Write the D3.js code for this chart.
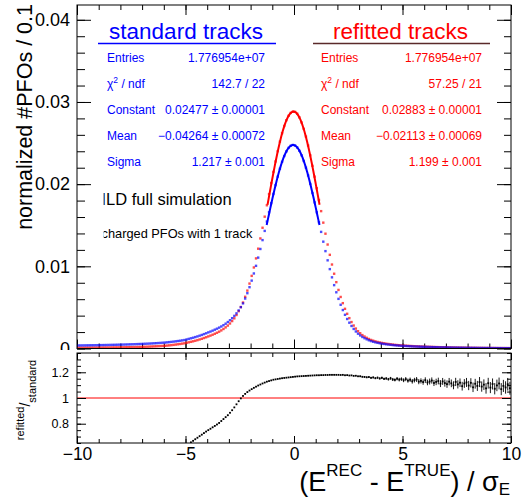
<!DOCTYPE html>
<html>
<head>
<meta charset="utf-8">
<script src="https://cdn.jsdelivr.net/npm/d3@7"></script>
<style>
  body { margin: 0; background: #fff; }
  svg { display: block; }
  text { font-family: "Liberation Sans", Arial, Helvetica, sans-serif; }
</style>
</head>
<body>
<svg id="chart" width="522" height="499"></svg>
<script>
// Histogram binning: 200 bins of width 0.1 from -10 to 10
const binLow = -10;
const binWidth = 0.1;

// normalized #PFOs per bin, standard tracks
const standard = [
  0.000370,0.000373,0.000377,0.000380,0.000384,0.000388,0.000392,0.000396,0.000401,0.000405,
  0.000410,0.000416,0.000421,0.000427,0.000433,0.000439,0.000445,0.000452,0.000459,0.000466,
  0.000473,0.000480,0.000488,0.000496,0.000505,0.000514,0.000523,0.000533,0.000543,0.000554,
  0.000565,0.000577,0.000590,0.000603,0.000617,0.000632,0.000648,0.000665,0.000683,0.000702,
  0.000722,0.000748,0.000776,0.000806,0.000838,0.000872,0.000908,0.000946,0.000986,0.00103,
  0.00110,0.00117,0.00124,0.00131,0.00139,0.00147,0.00156,0.00165,0.00175,0.00185,
  0.00196,0.00206,0.00217,0.00229,0.00241,0.00254,0.00268,0.00284,0.00302,0.00322,
  0.00344,0.00369,0.00397,0.00428,0.00463,0.00503,0.00549,0.00608,0.00673,0.00746,
  0.00826,0.00913,0.01006,0.01106,0.01211,0.01319,0.01431,0.01545,0.01658,0.01769,
  0.01881,0.01988,0.02092,0.02187,0.02271,0.02342,0.02399,0.02441,0.02467,0.02477,
  0.02470,0.02446,0.02406,0.02351,0.02282,0.02200,0.02106,0.02003,0.01892,0.01778,
  0.01657,0.01536,0.01419,0.01300,0.01185,0.01073,0.00966,0.00866,0.00771,0.00684,
  0.00604,0.00532,0.00468,0.00410,0.00359,0.00314,0.00274,0.00238,0.00207,0.00180,
  0.00159,0.00140,0.00125,0.00112,0.00100,0.00090,0.00082,0.00075,0.00069,0.00064,
  0.00059,0.00055,0.00051,0.00048,0.00045,0.00042,0.00039,0.00037,0.00035,0.00033,
  0.000315,0.000300,0.000286,0.000273,0.000260,0.000248,0.000237,0.000226,0.000216,0.000206,
  0.000197,0.000188,0.000180,0.000172,0.000164,0.000157,0.000150,0.000143,0.000137,0.000131,
  0.000125,0.000120,0.000115,0.000110,0.000105,0.000101,0.000097,0.000093,0.000089,0.000085,
  0.000082,0.000079,0.000076,0.000073,0.000070,0.000067,0.000065,0.000062,0.000060,0.000058,
  0.000056,0.000054,0.000052,0.000050,0.000048,0.000047,0.000045,0.000044,0.000042,0.000041
];

// normalized #PFOs per bin, refitted tracks
const refitted = [
  0.0000929,0.0000944,0.0000961,0.0000977,0.0000995,0.000101,0.000103,0.000105,0.000107,0.000109,
  0.000112,0.000114,0.000117,0.000120,0.000123,0.000126,0.000129,0.000132,0.000136,0.000139,
  0.000143,0.000148,0.000153,0.000158,0.000163,0.000169,0.000174,0.000180,0.000186,0.000193,
  0.000201,0.000211,0.000221,0.000232,0.000244,0.000256,0.000269,0.000283,0.000297,0.000312,
  0.000329,0.000354,0.000381,0.000410,0.000442,0.000478,0.000513,0.000551,0.000591,0.000634,
  0.000694,0.000752,0.000812,0.000874,0.000944,0.001016,0.001097,0.001180,0.001272,0.001367,
  0.001470,0.001568,0.001675,0.001793,0.001914,0.002047,0.002200,0.002374,0.002570,0.002789,
  0.003044,0.003340,0.003672,0.004079,0.004542,0.005045,0.005594,0.006293,0.007046,0.007900,
  0.008838,0.009860,0.010965,0.012144,0.013394,0.014694,0.016042,0.017428,0.018785,0.020131,
  0.021481,0.022763,0.024016,0.025172,0.026207,0.027074,0.027780,0.028316,0.028667,0.028832,
  0.028800,0.028569,0.028126,0.027507,0.026722,0.025784,0.024703,0.023515,0.022231,0.020909,
  0.019503,0.018079,0.016716,0.015314,0.013971,0.012651,0.011399,0.010219,0.009098,0.008071,
  0.007127,0.006272,0.005518,0.004830,0.004225,0.003693,0.003220,0.002794,0.002426,0.002106,
  0.001857,0.001632,0.001455,0.001301,0.001160,0.001043,0.000950,0.000868,0.000797,0.000739,
  0.000679,0.000632,0.000586,0.000551,0.000516,0.000481,0.000446,0.000423,0.000400,0.000377,
  0.000358,0.000341,0.000325,0.000310,0.000296,0.000282,0.000269,0.000257,0.000245,0.000234,
  0.000221,0.000211,0.000202,0.000193,0.000184,0.000176,0.000169,0.000161,0.000154,0.000147,
  0.000139,0.000133,0.000128,0.000122,0.000117,0.000112,0.000108,0.000103,0.0000988,0.0000944,
  0.0000901,0.0000868,0.0000835,0.0000802,0.0000769,0.0000736,0.0000714,0.0000681,0.0000659,0.0000637,
  0.0000610,0.0000588,0.0000566,0.0000545,0.0000523,0.0000512,0.0000490,0.0000479,0.0000457,0.0000447
];

// refitted / standard per bin
const ratio = [
  0.251,0.253,0.255,0.257,0.259,0.261,0.263,0.265,0.267,0.269,
  0.272,0.275,0.278,0.281,0.284,0.287,0.290,0.293,0.296,0.299,
  0.303,0.308,0.313,0.318,0.323,0.328,0.333,0.338,0.343,0.348,
  0.355,0.365,0.375,0.385,0.395,0.405,0.415,0.425,0.435,0.445,
  0.455,0.473,0.491,0.509,0.527,0.548,0.565,0.582,0.599,0.616,
  0.631,0.643,0.655,0.667,0.679,0.691,0.703,0.715,0.727,0.739,
  0.750,0.761,0.772,0.783,0.794,0.806,0.821,0.836,0.851,0.866,
  0.885,0.905,0.927,0.951,0.975,0.997,1.016,1.032,1.046,1.058,
  1.069,1.079,1.088,1.097,1.105,1.113,1.120,1.127,1.132,1.137,
  1.142,1.145,1.148,1.151,1.154,1.156,1.158,1.160,1.162,1.164,
  1.166,1.168,1.169,1.170,1.171,1.172,1.173,1.174,1.175,1.176,
  1.177,1.177,1.178,1.178,1.179,1.179,1.180,1.180,1.180,1.180,
  1.180,1.179,1.180,1.177,1.178,1.175,1.176,1.172,1.173,1.169,
  1.169,1.165,1.164,1.161,1.163,1.157,1.160,1.154,1.158,1.152,
  1.157,1.149,1.152,1.146,1.153,1.144,1.141,1.150,1.143,1.147,
  1.138,1.147,1.135,1.142,1.130,1.139,1.144,1.127,1.133,1.124,
  1.139,1.121,1.128,1.136,1.117,1.125,1.132,1.112,1.129,1.116,
  1.108,1.127,1.114,1.099,1.125,1.106,1.119,1.092,1.113,1.121,
  1.097,1.118,1.083,1.111,1.094,1.124,1.089,1.104,1.075,1.115,
  1.081,1.109,1.072,1.098,1.113,1.069,1.094,1.082,1.107,1.076
];

// statistical uncertainty on the ratio per bin
const ratioErr = [
  0.006,0.006,0.006,0.006,0.006,0.006,0.006,0.006,0.006,0.006,
  0.006,0.006,0.006,0.006,0.006,0.006,0.006,0.006,0.006,0.006,
  0.006,0.006,0.006,0.006,0.006,0.006,0.006,0.006,0.006,0.006,
  0.006,0.006,0.006,0.006,0.006,0.006,0.006,0.006,0.006,0.006,
  0.006,0.006,0.006,0.006,0.006,0.006,0.006,0.006,0.006,0.006,
  0.004,0.004,0.004,0.004,0.004,0.004,0.004,0.004,0.004,0.004,
  0.004,0.004,0.004,0.004,0.004,0.004,0.004,0.004,0.004,0.004,
  0.002,0.002,0.002,0.002,0.002,0.002,0.002,0.002,0.002,0.002,
  0.002,0.002,0.002,0.002,0.002,0.002,0.002,0.002,0.002,0.002,
  0.002,0.002,0.002,0.002,0.002,0.002,0.002,0.002,0.002,0.002,
  0.002,0.002,0.002,0.002,0.002,0.002,0.002,0.002,0.002,0.002,
  0.002,0.002,0.002,0.002,0.002,0.002,0.002,0.002,0.002,0.002,
  0.002,0.002,0.002,0.002,0.002,0.002,0.002,0.002,0.002,0.002,
  0.005,0.005,0.006,0.006,0.006,0.007,0.007,0.007,0.008,0.008,
  0.009,0.009,0.010,0.010,0.011,0.012,0.012,0.013,0.014,0.014,
  0.015,0.016,0.016,0.017,0.018,0.018,0.019,0.020,0.020,0.021,
  0.022,0.022,0.023,0.024,0.024,0.025,0.026,0.027,0.027,0.028,
  0.029,0.029,0.030,0.031,0.032,0.032,0.033,0.034,0.034,0.035,
  0.036,0.036,0.037,0.038,0.039,0.039,0.040,0.041,0.041,0.042,
  0.043,0.043,0.044,0.045,0.046,0.047,0.047,0.048,0.049,0.050
];

// Gaussian fit results: [Constant, Mean, Sigma] and their errors
const standardFit = [0.02477, -0.04264, 1.217];
const standardFitErr = [0.00001, 0.00072, 0.001];
const refittedFit = [0.02883, -0.02113, 1.199];
const refittedFitErr = [0.00001, 0.00069, 0.001];
const entries = ["1.776954e+07", "1.776954e+07"];
const chi2ndf = ["142.7 / 22", "57.25 / 21"];

// Axis ticks
const xMajor = [-10, -5, 0, 5, 10];
const yMajor = [0, 0.01, 0.02, 0.03, 0.04];
const rMajor = [0.8, 1, 1.2];

// ---------------------------------------------------------------
const svg = d3.select("#chart");
const W = 522, H = 499;
const left = 77, right = 511;
const topMain = 5, botMain = 348.5;
const topRat = 353, botRat = 443;

const x = d3.scaleLinear().domain([-10, 10]).range([left, right]);
const y = d3.scaleLinear().domain([0, 0.0418]).range([botMain, topMain]);
const yr = d3.scaleLinear().domain([0.65, 1.35]).range([botRat, topRat]);

const centers = standard.map((_, i) => binLow + (i + 0.5) * binWidth);

const defs = svg.append("defs");
defs.append("clipPath").attr("id", "clipMain")
  .append("rect").attr("x", left).attr("y", topMain).attr("width", right - left).attr("height", botMain - topMain);
defs.append("clipPath").attr("id", "clipRat")
  .append("rect").attr("x", left).attr("y", topRat).attr("width", right - left).attr("height", botRat - topRat);
defs.append("clipPath").attr("id", "clipText")
  .append("rect").attr("x", 103.6).attr("y", 180).attr("width", 200).attr("height", 70);

function tickLayer(g, axisFn, scale, values, size) {
  g.call(axisFn(scale).tickValues(values).tickSize(size).tickFormat(""))
   .call(s => s.select(".domain").remove())
   .call(s => s.selectAll("line").attr("stroke", "#000").attr("stroke-width", 1));
}

// ---------------- upper pad ----------------
const main = svg.append("g");

// y-axis title
main.append("text")
  .attr("transform", "translate(32,4) rotate(-90)")
  .attr("text-anchor", "end")
  .attr("font-size", 21.5)
  .text("normalized #PFOs / 0.1");

// y tick labels
main.append("g").attr("transform", `translate(${left},0)`)
  .call(d3.axisLeft(y).tickValues(yMajor).tickSize(0).tickPadding(7)
        .tickFormat(d => d === 0 ? "0" : d3.format(".2f")(d)))
  .call(s => s.select(".domain").remove())
  .call(s => s.selectAll("text").attr("font-size", 18).attr("fill", "#000")
        .attr("font-family", "'Liberation Sans', Arial, sans-serif"));

// ticks on all four sides
const yMinor = d3.range(0, 0.0419, 0.002);
const xMinor = d3.range(-10, 10.01, 1);
tickLayer(main.append("g").attr("transform", `translate(${left},0)`), d3.axisRight, y, yMinor, 8);
tickLayer(main.append("g").attr("transform", `translate(${left},0)`), d3.axisRight, y, yMajor, 14);
tickLayer(main.append("g").attr("transform", `translate(${right},0)`), d3.axisLeft, y, yMinor, 7);
tickLayer(main.append("g").attr("transform", `translate(${right},0)`), d3.axisLeft, y, yMajor, 14);
tickLayer(main.append("g").attr("transform", `translate(0,${botMain})`), d3.axisTop, x, xMinor, 5);
tickLayer(main.append("g").attr("transform", `translate(0,${botMain})`), d3.axisTop, x, xMajor, 9);
tickLayer(main.append("g").attr("transform", `translate(0,${topMain})`), d3.axisBottom, x, xMinor, 5);
tickLayer(main.append("g").attr("transform", `translate(0,${topMain})`), d3.axisBottom, x, xMajor, 10);

// histogram markers
const pts = main.append("g").attr("clip-path", "url(#clipMain)");
function markers(values, color) {
  pts.append("g").selectAll("rect").data(values).join("rect")
    .attr("x", (d, i) => x(centers[i]) - 1.2)
    .attr("y", d => y(d) - 1.2)
    .attr("width", 2.4).attr("height", 2.4)
    .attr("fill", color).attr("fill-opacity", 0.7);
}
markers(refitted, "#ff0000");
markers(standard, "#0000ff");

// Gaussian fit curves over mean ± sigma
function fitCurve(par, color) {
  const [c, m, s] = par;
  const xs = d3.range(0, 101).map(k => m - s + (2 * s) * k / 100);
  const line = d3.line().x(d => x(d)).y(d => y(c * Math.exp(-0.5 * ((d - m) / s) ** 2)));
  pts.append("path").datum(xs).attr("d", line)
    .attr("fill", "none").attr("stroke", color).attr("stroke-width", 2);
}
fitCurve(refittedFit, "#ff0000");
fitCurve(standardFit, "#0000ff");

// statistics boxes
const statNames = ["Entries", "chi2", "Constant", "Mean", "Sigma"];
const rowY = [61.5, 87.5, 114, 140, 166];
function statBox(title, cx, lineX0, lineX1, lineColor, labelX, valueX, color, fit, fitErr, ent, chi) {
  const g = main.append("g").attr("fill", color);
  g.append("text").attr("x", cx).attr("y", 39).attr("text-anchor", "middle")
    .attr("font-size", 22.5).text(title);
  g.append("line").attr("x1", lineX0).attr("x2", lineX1).attr("y1", 43.5).attr("y2", 43.5)
    .attr("stroke", lineColor).attr("stroke-width", 1.6);
  const values = [
    ent, chi,
    d3.format(".5f")(fit[0]) + " ± " + d3.format(".5f")(fitErr[0]),
    d3.format(".5f")(fit[1]) + " ± " + d3.format(".5f")(fitErr[1]),
    d3.format(".3f")(fit[2]) + " ± " + d3.format(".3f")(fitErr[2])
  ];
  statNames.forEach((n, i) => {
    const t = g.append("text").attr("x", labelX).attr("y", rowY[i]).attr("font-size", 12);
    if (n === "chi2") {
      t.append("tspan").text("χ");
      t.append("tspan").attr("font-size", 8.5).attr("dy", -5).text("2");
      t.append("tspan").attr("dy", 5).text(" / ndf");
    } else {
      t.text(n);
    }
    g.append("text").attr("x", valueX).attr("y", rowY[i]).attr("text-anchor", "end")
      .attr("font-size", 12).text(values[i]);
  });
}
statBox("standard tracks", 186, 98, 276, "#0000ff", 107, 265, "#0000ff",
        standardFit, standardFitErr, entries[0], chi2ndf[0]);
statBox("refitted tracks", 400.5, 313, 490, "#5a2a2a", 321, 482, "#ff0000",
        refittedFit, refittedFitErr, entries[1], chi2ndf[1]);

// labels
const lab = main.append("g").attr("clip-path", "url(#clipText)");
lab.append("text").attr("x", 101.5).attr("y", 205).attr("font-size", 16.5).text("ILD full simulation");
lab.append("text").attr("x", 101.5).attr("y", 237.5).attr("font-size", 12.8).text("charged PFOs with 1 track");

// frame
main.append("rect").attr("x", left).attr("y", topMain).attr("width", right - left)
  .attr("height", botMain - topMain).attr("fill", "none").attr("stroke", "#000").attr("stroke-width", 1);

// ---------------- lower pad ----------------
const low = svg.append("g");
low.append("rect").attr("x", 0).attr("y", 350).attr("width", W).attr("height", H - 350).attr("fill", "#fff");

// reference line at 1
low.append("line").attr("x1", left).attr("x2", right).attr("y1", yr(1)).attr("y2", yr(1))
  .attr("stroke", "#ff0000").attr("stroke-width", 1);

const rp = low.append("g").attr("clip-path", "url(#clipRat)");
const rData = ratio.map((r, i) => ({ c: centers[i], r, e: ratioErr[i] }))
  .filter(d => d.r > 0.65 && d.r < 1.35);
rp.append("g").selectAll("line").data(rData).join("line")
  .attr("x1", d => x(d.c)).attr("x2", d => x(d.c))
  .attr("y1", d => yr(d.r - d.e)).attr("y2", d => yr(d.r + d.e))
  .attr("stroke", "#000").attr("stroke-width", 0.9);
rp.append("g").selectAll("rect").data(rData).join("rect")
  .attr("x", d => x(d.c) - 0.9).attr("y", d => yr(d.r) - 0.9)
  .attr("width", 1.8).attr("height", 1.8).attr("fill", "#000");

// ratio ticks
const rMinor = d3.range(0.65, 1.351, 0.05);
tickLayer(low.append("g").attr("transform", `translate(${left},0)`), d3.axisRight, yr, rMinor, 4);
tickLayer(low.append("g").attr("transform", `translate(${left},0)`), d3.axisRight, yr, rMajor, 9);
tickLayer(low.append("g").attr("transform", `translate(${right},0)`), d3.axisLeft, yr, rMinor, 4);
tickLayer(low.append("g").attr("transform", `translate(${right},0)`), d3.axisLeft, yr, rMajor, 9);
tickLayer(low.append("g").attr("transform", `translate(0,${botRat})`), d3.axisTop, x, xMinor, 4);
tickLayer(low.append("g").attr("transform", `translate(0,${botRat})`), d3.axisTop, x, xMajor, 7);
tickLayer(low.append("g").attr("transform", `translate(0,${topRat})`), d3.axisBottom, x, xMinor, 4);
tickLayer(low.append("g").attr("transform", `translate(0,${topRat})`), d3.axisBottom, x, xMajor, 7);

// ratio tick labels
low.append("g").attr("transform", `translate(${left},0)`)
  .call(d3.axisLeft(yr).tickValues(rMajor).tickSize(0).tickPadding(8)
        .tickFormat(d => d === 1 ? "1" : d3.format(".1f")(d)))
  .call(s => s.select(".domain").remove())
  .call(s => s.selectAll("text").attr("font-size", 12.5).attr("fill", "#000")
        .attr("font-family", "'Liberation Sans', Arial, sans-serif"));

// x tick labels
low.append("g").attr("transform", `translate(0,${botRat})`)
  .call(d3.axisBottom(x).tickValues(xMajor).tickSize(0).tickPadding(5).tickFormat(d3.format("d")))
  .call(s => s.select(".domain").remove())
  .call(s => s.selectAll("text").attr("font-size", 17.5).attr("fill", "#000")
        .attr("font-family", "'Liberation Sans', Arial, sans-serif"));

// ratio y title: refitted over standard
const rt = low.append("text").attr("transform", "translate(30,400) rotate(-90)")
  .attr("text-anchor", "middle").attr("font-size", 14);
rt.append("tspan").attr("font-size", 11).attr("dy", -6).text("refitted");
rt.append("tspan").attr("dy", 6).text("/");
rt.append("tspan").attr("font-size", 11).attr("dy", 6).text("standard");

// x title
const xt = low.append("text").attr("x", right - 1).attr("y", 491).attr("text-anchor", "end").attr("font-size", 27);
xt.append("tspan").text("(E");
xt.append("tspan").attr("font-size", 17).attr("dy", -15).text("REC");
xt.append("tspan").attr("dy", 15).text(" - E");
xt.append("tspan").attr("font-size", 17).attr("dy", -15).text("TRUE");
xt.append("tspan").attr("dy", 15).text(") / σ");
xt.append("tspan").attr("font-size", 17).attr("dy", 4).text("E");

// frame
low.append("rect").attr("x", left).attr("y", topRat).attr("width", right - left)
  .attr("height", botRat - topRat).attr("fill", "none").attr("stroke", "#000").attr("stroke-width", 1);
</script>
</body>
</html>
